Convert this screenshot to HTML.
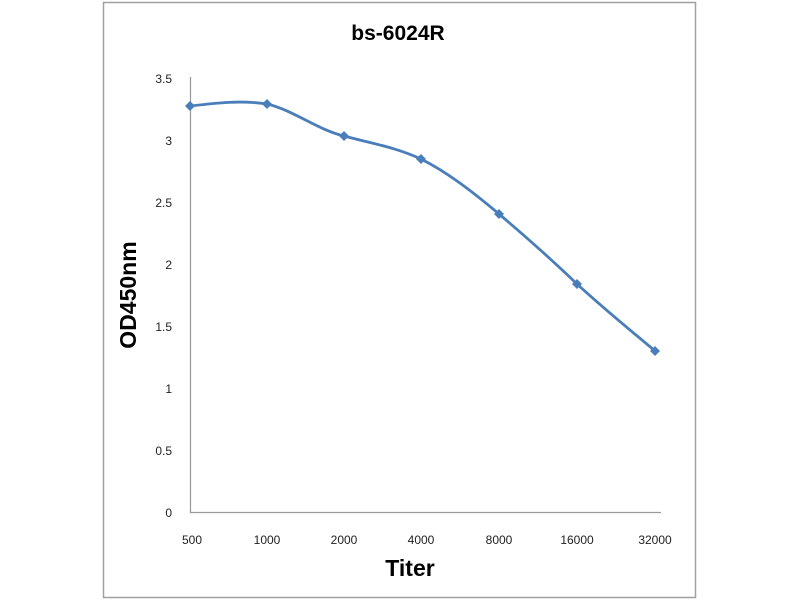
<!DOCTYPE html>
<html><head><style>body{margin:0;background:#fff}</style></head><body>
<svg width="800" height="600" xmlns="http://www.w3.org/2000/svg" font-family="Liberation Sans, sans-serif">
<rect x="103.5" y="2.5" width="592" height="595" fill="#fff" stroke="#a0a0a0" stroke-width="1.5"/>
<text x="398" y="40" text-anchor="middle" font-size="21" font-weight="bold">bs-6024R</text>
<line x1="190.5" y1="77" x2="190.5" y2="513" stroke="#999" stroke-width="1.2"/>
<line x1="190" y1="512.5" x2="661" y2="512.5" stroke="#999" stroke-width="1.2"/>
<g font-size="12" fill="#222" text-anchor="end">
<text x="172" y="83">3.5</text><text x="172" y="145">3</text><text x="172" y="207">2.5</text>
<text x="172" y="269">2</text><text x="172" y="331">1.5</text><text x="172" y="393">1</text>
<text x="172" y="455">0.5</text><text x="172" y="517">0</text>
</g>
<g font-size="12" fill="#222" text-anchor="middle">
<text x="192" y="544">500</text><text x="267" y="544">1000</text><text x="344" y="544">2000</text>
<text x="421" y="544">4000</text><text x="499" y="544">8000</text><text x="577" y="544">16000</text><text x="655" y="544">32000</text>
</g>
<text x="410" y="576" text-anchor="middle" font-size="23" font-weight="bold">Titer</text>
<text transform="translate(136,295) rotate(-90)" text-anchor="middle" font-size="23" font-weight="bold">OD450nm</text>
<path d="M190,106 C216,103 241,100 267,104 C293,110 318,130 344,136 C370,143 395,147 421,159 C447,172 473,192 499,214 C525,236 551,259 577,284 C603,308 629,329 655,351" fill="none" stroke="#4a7ebb" stroke-width="2.8"/>
<g fill="#4a7ebb">
<path d="M190,101 l5,5 -5,5 -5,-5z"/><path d="M267,99 l5,5 -5,5 -5,-5z"/><path d="M344,131 l5,5 -5,5 -5,-5z"/>
<path d="M421,154 l5,5 -5,5 -5,-5z"/><path d="M499,209 l5,5 -5,5 -5,-5z"/><path d="M577,279 l5,5 -5,5 -5,-5z"/>
<path d="M655,346 l5,5 -5,5 -5,-5z"/>
</g>
</svg>
</body></html>
